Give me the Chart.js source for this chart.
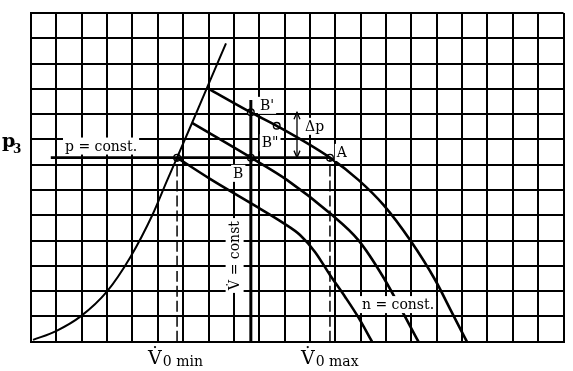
<!DOCTYPE html>
<html><head><meta charset="utf-8">
<script src="https://cdn.jsdelivr.net/npm/chart.js@4"></script>
<style>html,body{margin:0;padding:0;background:#fff}canvas{display:block}</style>
</head><body>
<canvas id="c" width="573" height="371"></canvas>
<script>
// grid extents (cells)
const gridCols = 21, gridRows = 13;
// surge (stability) line
const surgeX = [0.08, 0.99, 1.97, 3.0, 3.91, 4.81, 5.36, 5.76, 6.35, 6.94, 7.69];
const surgeY = [0.07, 0.42, 1.01, 1.99, 3.33, 5.06, 6.36, 7.28, 8.65, 10.04, 11.8];
// n = const characteristics
const n1X = [6.94, 8.67, 9.69, 11.79, 12.91, 13.9, 14.95, 15.94, 16.53, 17.19];
const n1Y = [10.04, 9.07, 8.54, 7.28, 6.4, 5.41, 4.02, 2.44, 1.29, 0];
const n2X = [6.35, 8.67, 10.09, 11.79, 12.91, 13.9, 15.28];
const n2Y = [8.65, 7.28, 6.4, 5.08, 4.02, 2.54, 0];
const n3X = [5.76, 7.06, 8.95, 9.94, 10.61, 11.2, 11.79, 12.39, 12.9, 13.45];
const n3Y = [7.28, 6.44, 5.31, 4.7, 4.22, 3.55, 2.64, 1.77, 0.98, 0];
// p = const line
const pConstY = 7.28;
const pConstX = [0.78, 11.79];
// V = const line
const vConstX = 8.67;
const vConstY = [0, 9.56];
// V0 min / V0 max
const v0minX = 5.76, v0maxX = 11.79;
// marked points
const pointX = [5.76, 8.67, 8.67, 9.69, 11.79];
const pointY = [7.28, 7.28, 9.07, 8.54, 7.28];
// Δp
const dpX = 10.49, dpY = [7.28, 9.07];
// tick labels
const yTickLabel = 'p', yTickSub = '3';
const xTickLabels = ['V\u0307', 'V\u0307'];
const xTickSubs = ['0 min', '0 max'];

const toXY = (xs, ys) => xs.map((x, i) => ({x, y: ys[i]}));
const line = (data, w, dash) => ({type:'line', data, borderColor:'#000', borderWidth:w, borderDash:dash||[], pointRadius:0, fill:false, cubicInterpolationMode:'monotone', borderCapStyle:'butt', borderJoinStyle:'round'});

const SERIF = '"DejaVu Serif", serif';
const labels = [
  {t:'p = const.', x:1.34, y:7.56},
  {t:"B'", x:9.03, y:9.17},
  {t:'B"', x:9.1, y:7.69},
  {t:'B', x:7.97, y:6.48},
  {t:'A', x:12.06, y:7.31},
  {t:'\u0394p', x:10.81, y:8.34},
  {t:'n = const.', x:13.05, y:1.29},
];

const drawPlugin = {
  id:'drawings',
  beforeDraw(chart){
    const c = chart.ctx; c.save(); c.fillStyle='#fff'; c.fillRect(0,0,chart.width,chart.height); c.restore();
  },
  afterDatasetsDraw(chart){
    const c = chart.ctx, xs = chart.scales.x, ys = chart.scales.y;
    c.save();
    c.fillStyle = '#000'; c.strokeStyle = '#000';
    // delta p arrow
    const ax = xs.getPixelForValue(dpX), ay0 = ys.getPixelForValue(dpY[0]), ay1 = ys.getPixelForValue(dpY[1]);
    c.lineWidth = 1.3;
    c.beginPath(); c.moveTo(ax, ay0); c.lineTo(ax, ay1); c.stroke();
    c.beginPath(); c.moveTo(ax-3, ay1+7); c.lineTo(ax, ay1); c.lineTo(ax+3, ay1+7); c.stroke();
    c.beginPath(); c.moveTo(ax-3, ay0-7); c.lineTo(ax, ay0); c.lineTo(ax+3, ay0-7); c.stroke();
    // labels with white boxes
    c.font = '14px ' + SERIF; c.textBaseline = 'alphabetic';
    labels.forEach(l => {
      const px = xs.getPixelForValue(l.x), py = ys.getPixelForValue(l.y);
      const w = c.measureText(l.t).width;
      c.fillStyle = '#fff'; c.fillRect(px-2, py-13, w+4, 17);
      c.fillStyle = '#000'; c.fillText(l.t, px, py);
    });
    // rotated V = const
    const rx = xs.getPixelForValue(8.03), ry = ys.getPixelForValue(3.41);
    c.translate(rx, ry); c.rotate(-Math.PI/2);
    const rt = 'V\u0307 = const'; const rw = c.measureText(rt).width;
    c.fillStyle = '#fff'; c.fillRect(-rw/2-3, -9, rw+6, 18);
    c.fillStyle = '#000'; c.textAlign = 'center'; c.textBaseline = 'middle';
    c.fillText(rt, 0, 1);
    c.restore();
  },
  afterDraw(chart){
    const c = chart.ctx, xs = chart.scales.x, ys = chart.scales.y, a = chart.chartArea;
    c.save(); c.fillStyle = '#000'; c.textBaseline = 'alphabetic';
    // y label p3
    const py = ys.getPixelForValue(pConstY);
    c.font = 'bold 19px ' + SERIF; c.fillText(yTickLabel, 2, py - 11);
    c.font = 'bold 12px ' + SERIF; c.fillText(yTickSub, 13, py - 5);
    // x labels
    [v0minX, v0maxX].forEach((v, i) => {
      const px = xs.getPixelForValue(v) - 29;
      c.font = '19px ' + SERIF; c.fillText(xTickLabels[i], px, a.bottom + 22);
      const w = c.measureText('V').width;
      c.font = '14px ' + SERIF; c.fillText(xTickSubs[i], px + w + 1, a.bottom + 24);
    });
    c.restore();
  }
};

new Chart(document.getElementById('c'), {
  type:'line',
  data:{datasets:[
    line(toXY(surgeX, surgeY), 2),
    line(toXY(n1X, n1Y), 2.6),
    line(toXY(n2X, n2Y), 2.6),
    line(toXY(n3X, n3Y), 2.6),
    line(toXY(pConstX, [pConstY, pConstY]), 2.6),
    line(toXY([vConstX, vConstX], vConstY), 3),
    line(toXY([v0minX, v0minX], [0, pConstY]), 1.5, [11, 4]),
    line(toXY([v0maxX, v0maxX], [0, pConstY]), 1.5, [11, 4]),
    {type:'scatter', data:toXY(pointX, pointY), pointRadius:3.3, pointBackgroundColor:'#fff', pointBorderColor:'#000', pointBorderWidth:1.4, showLine:false}
  ]},
  options:{
    responsive:false, animation:false, events:[],
    layout:{padding:{left:31, right:9.5, top:13, bottom:29.3}},
    plugins:{legend:{display:false}, tooltip:{enabled:false}},
    scales:{
      x:{type:'linear', min:0, max:gridCols, ticks:{display:false, stepSize:1}, grid:{color:'#000', lineWidth:2, drawTicks:false}, border:{color:'#000', width:2}},
      y:{type:'linear', min:0, max:gridRows, ticks:{display:false, stepSize:1}, grid:{color:'#000', lineWidth:2, drawTicks:false}, border:{color:'#000', width:2}}
    }
  },
  plugins:[drawPlugin]
});
</script>
</body></html>
